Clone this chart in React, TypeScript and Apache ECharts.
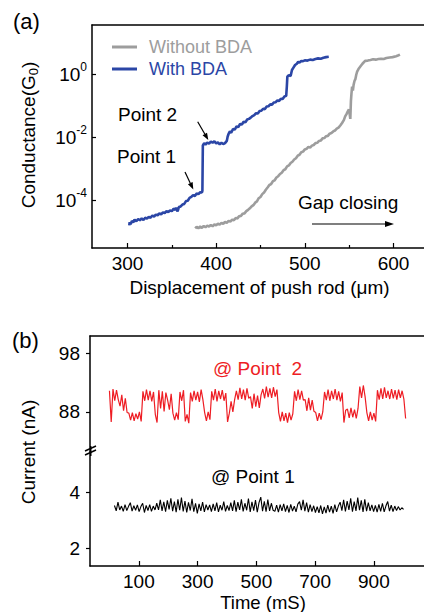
import React, { useEffect, useRef } from "react";
import * as echarts from "echarts";

const FONT = "'Liberation Sans', Arial, Helvetica, sans-serif";

// ---------- Panel (a): conductance vs displacement (log10 of G/G0) ----------
const withBdaDisplacement = [
  302, 302.5, 303.5, 305, 306.5, 308, 310, 312, 314, 316, 318, 320, 322, 324, 326, 328, 330, 332, 334, 336,
  338, 340, 342, 344, 346, 348, 350, 352, 354, 355, 356.5, 358, 360, 362, 364, 366, 368, 370, 372, 374,
  376, 378, 380, 382, 384, 384.5, 385, 386.5, 388, 390, 392, 394, 396, 398, 400, 402, 404, 406, 408, 410,
  412, 413, 414, 415.5, 417, 419, 421, 423, 425, 427, 429, 431, 433, 435, 437, 439, 441, 443, 445, 447,
  449, 451, 453, 455, 457, 459, 461, 463, 465, 467, 469, 471, 473, 475, 477, 479, 479.7, 480.3, 482, 484,
  485.5, 487, 489, 491, 492.5, 494, 496, 498, 500, 503, 506, 509, 512, 515, 518, 521, 524, 527,
];
const withBdaLogG = [
  -4.8, -4.7, -4.77, -4.66, -4.71, -4.62, -4.67, -4.6, -4.64, -4.58, -4.63, -4.56, -4.59, -4.53, -4.56, -4.49, -4.52, -4.46, -4.48, -4.42,
  -4.45, -4.39, -4.41, -4.35, -4.38, -4.33, -4.35, -4.27, -4.31, -4.24, -4.36, -4.22, -4.2, -4.14, -4.12, -4.03, -4.02, -3.93, -3.9, -3.84,
  -3.87, -3.79, -3.81, -3.75, -3.76, -3.7, -2.26, -2.19, -2.24, -2.17, -2.21, -2.14, -2.18, -2.13, -2.2, -2.17, -2.23, -2.18, -2.22, -2.19,
  -2.12, -1.98, -1.9, -1.82, -1.86, -1.74, -1.76, -1.66, -1.68, -1.58, -1.6, -1.51, -1.53, -1.44, -1.42, -1.38, -1.33, -1.3, -1.24, -1.25,
  -1.17, -1.16, -1.1, -1.11, -1.03, -1.02, -0.96, -0.97, -0.9, -0.89, -0.84, -0.85, -0.78, -0.79, -0.71, -0.69, -0.4, -0.08, -0.03, -0.06,
  0.13, 0.2, 0.29, 0.33, 0.39, 0.37, 0.42, 0.41, 0.44, 0.43, 0.46, 0.45, 0.48, 0.5, 0.49, 0.52, 0.54, 0.55,
];
const withoutBdaDisplacement = [
  376.4, 378, 380, 382, 384, 386, 388, 390, 392, 394, 396, 398, 400, 402, 404, 406, 408, 410, 412, 414,
  416, 418, 420, 422, 424, 426, 428, 430, 432, 434, 436, 438, 440, 442, 444, 446, 448, 450, 452, 454,
  456, 458, 460, 462, 464, 466, 468, 470, 472, 474, 476, 478, 480, 482, 484, 486, 488, 490, 492, 494,
  496, 498, 500, 502, 504, 506, 508, 510, 512, 514, 516, 518, 520, 522, 524, 526, 528, 530, 532, 534,
  536, 538, 540, 542, 544, 545.5, 547, 548.5, 549.7, 550.5, 551.3, 552, 552.6, 553.3, 554.2, 555, 556, 557, 558, 559,
  560.5, 562.6, 565, 568, 571, 574, 577, 580, 583, 586, 589, 592, 595.6, 599, 602.9, 605, 607.3,
];
const withoutBdaLogG = [
  -4.9, -4.85, -4.89, -4.84, -4.88, -4.82, -4.86, -4.81, -4.84, -4.79, -4.83, -4.77, -4.8, -4.75, -4.78, -4.72, -4.75, -4.69, -4.72, -4.66,
  -4.68, -4.62, -4.64, -4.57, -4.58, -4.51, -4.5, -4.43, -4.42, -4.35, -4.31, -4.26, -4.2, -4.16, -4.08, -4.04, -3.94, -3.9, -3.81, -3.76,
  -3.67, -3.6, -3.52, -3.49, -3.4, -3.37, -3.28, -3.24, -3.17, -3.13, -3.05, -3.02, -2.93, -2.9, -2.82, -2.78, -2.71, -2.67, -2.59, -2.56,
  -2.48, -2.46, -2.39, -2.37, -2.31, -2.33, -2.27, -2.25, -2.19, -2.18, -2.12, -2.11, -2.04, -2.03, -1.97, -1.96, -1.89, -1.87, -1.82, -1.79,
  -1.73, -1.7, -1.63, -1.55, -1.46, -1.34, -1.27, -1.18, -1.12, -1.25, -1.42, -0.85, -0.62, -0.4, -0.52, -0.34, -0.22, -0.16, -0.02, 0.08,
  0.16, 0.24, 0.33, 0.42, 0.43, 0.45, 0.47, 0.46, 0.48, 0.49, 0.48, 0.51, 0.53, 0.54, 0.57, 0.59, 0.62,
];
const xTicksA = [300, 400, 500, 600];
const xMinorTicksA = [350, 450, 550];
const yTicksA = [-4, -2, 0];

// ---------- Panel (b): current vs time ----------
const timeStep = 6;
const point2StartTime = 0;
const point2Current = [
  91.6, 86.3, 91.9,
  89.9, 91.7, 90.1,
  89.0, 90.9, 88.2, 90.3, 87.9,
  87.8, 86.6, 87.9, 86.5, 87.7, 86.8, 88.0, 86.4,
  91.5, 89.9, 91.8, 90.0, 91.6, 89.8, 91.4,
  87.6, 86.2,
  91.7, 88.6, 91.5, 88.1, 91.3, 90.0, 88.4, 91.1,
  87.8, 86.6, 87.9, 86.7,
  91.4, 89.9, 91.7,
  86.4, 87.6, 86.1,
  91.3, 89.8, 91.6, 90.0, 91.4, 89.7, 91.8, 90.1,
  87.9, 86.5, 88.0, 86.7,
  91.5, 90.0, 91.9, 89.8, 91.6, 90.2, 91.7, 89.9, 91.2,
  86.3, 87.8,
  89.8, 88.0, 90.1,
  91.6, 90.1, 92.1, 90.2, 91.8, 90.0, 92.0, 90.3,
  90.6, 88.6, 91.1, 88.9, 90.8, 88.7, 90.9,
  91.9, 90.3, 92.3, 90.5, 92.0, 90.4, 92.2, 90.6, 91.8,
  87.9, 86.4, 88.0, 86.5, 87.8, 86.2, 87.9, 86.6, 87.7,
  91.5, 89.9, 91.8, 90.1, 91.6, 90.0,
  90.1, 88.2, 90.4, 88.3, 90.0, 88.1,
  87.9, 86.5, 87.8, 86.7, 88.0,
  91.4, 90.0, 91.8, 89.9, 91.6, 90.2, 91.9, 90.0, 91.5, 89.8, 91.3,
  86.2, 88.3,
  88.5, 87.0, 88.7, 87.1, 88.4, 86.9, 88.6,
  92.3, 90.4, 92.5, 90.6,
  87.9, 86.5, 88.0, 86.6, 87.8, 86.4,
  91.7, 90.1, 92.0, 90.2, 92.2, 90.4,
  91.6, 90.2, 91.9, 90.3, 91.7, 90.1, 91.8, 90.4, 91.6, 90.2, 86.9,
];
const point1StartTime = 17;
const point1Current = [
  3.52, 3.33, 3.64, 3.36, 3.5, 3.31, 3.55, 3.34, 3.49, 3.62, 3.32, 3.51, 3.35, 3.54, 3.3, 3.48, 3.6, 3.27, 3.52, 3.34, 3.55, 3.31, 3.5, 3.36,
  3.6, 3.36, 3.72, 3.33, 3.65, 3.3, 3.7, 3.38, 3.78, 3.32, 3.66, 3.28, 3.74, 3.35, 3.8, 3.31, 3.68, 3.27, 3.63, 3.34, 3.76, 3.3, 3.6, 3.24, 3.58, 3.33, 3.64, 3.29, 3.55,
  3.36, 3.54, 3.3, 3.58, 3.33, 3.62, 3.29, 3.53, 3.35, 3.66, 3.31, 3.52, 3.34,
  3.62, 3.33, 3.7, 3.3, 3.64, 3.36, 3.74, 3.31, 3.6, 3.35, 3.77, 3.29, 3.65, 3.34, 3.71, 3.28, 3.62, 3.82, 3.32, 3.67, 3.3, 3.73, 3.33, 3.6, 3.35,
  3.31, 3.53, 3.28, 3.55, 3.33, 3.58, 3.3, 3.52, 3.27, 3.56, 3.32, 3.5, 3.29, 3.57,
  3.66, 3.35, 3.72, 3.32, 3.62, 3.28, 3.55, 3.3, 3.51, 3.27,
  3.48, 3.26, 3.52, 3.22, 3.47, 3.25, 3.53, 3.28, 3.5, 3.24, 3.55, 3.29, 3.5,
  3.64, 3.34, 3.72, 3.31, 3.68, 3.36, 3.78, 3.3, 3.66, 3.33, 3.8, 3.35, 3.7, 3.29, 3.74, 3.32, 3.62,
  3.33, 3.54, 3.3, 3.52, 3.28, 3.56, 3.31, 3.6, 3.29, 3.51, 3.66, 3.32, 3.53, 3.3, 3.5, 3.34, 3.48, 3.36, 3.44, 3.38,
];
const xTicksB = [100, 300, 500, 700, 900];
const yTicksBUpper = [88, 98];
const yTicksBLower = [2, 4];

const BLUE = "#2b46a6";
const GRAY = "#9d9d9d";
const RED = "#ee1d24";

function zip(xs: number[], ys: number[]) {
  return xs.map((x, i) => [x, ys[i]]);
}
function timeSeries(start: number, vals: number[]) {
  return vals.map((v, i) => [start + i * timeStep, v]);
}

function arrow(x1: number, y1: number, x2: number, y2: number, head = 7, half = 2.6, w = 1.2) {
  const dx = x2 - x1;
  const dy = y2 - y1;
  const len = Math.sqrt(dx * dx + dy * dy);
  const ux = dx / len;
  const uy = dy / len;
  const bx = x2 - ux * head;
  const by = y2 - uy * head;
  const px = -uy;
  const py = ux;
  return [
    { type: "line", shape: { x1, y1, x2: bx, y2: by }, style: { stroke: "#000", lineWidth: w } },
    {
      type: "polygon",
      shape: { points: [[x2, y2], [bx + px * half, by + py * half], [bx - px * half, by - py * half]] },
      style: { fill: "#000" },
    },
  ];
}

const txt = (text: string, x: number, y: number, extra: any = {}) => ({
  type: "text",
  x,
  y,
  style: {
    text,
    fontFamily: FONT,
    fontSize: 19,
    fill: "#000",
    align: "left",
    verticalAlign: "middle",
    ...extra,
  },
});

const axisLine = { show: true, onZero: false, lineStyle: { color: "#000", width: 1.5 } };
const tickStyle = { color: "#000", width: 1.2 };

export default function App() {
  const ref = useRef<HTMLDivElement>(null);
  useEffect(() => {
    if (!ref.current) return;
    const chart = echarts.init(ref.current, undefined, { renderer: "svg" });
    const option: any = {
      animation: false,
      textStyle: { fontFamily: FONT },
      grid: [
        { left: 92, top: 25, width: 340, height: 223 },
        { left: 90, top: 336, width: 342, height: 116 },
        { left: 90, top: 452, width: 342, height: 114 },
      ],
      xAxis: [
        {
          gridIndex: 0, type: "value", min: 260, max: 634.4, position: "bottom",
          axisLine,
          axisTick: { show: true, inside: true, length: 5, customValues: xTicksA, lineStyle: tickStyle },
          axisLabel: { show: true, customValues: xTicksA, fontSize: 19, color: "#000", margin: 6, fontFamily: FONT },
          splitLine: { show: false },
        },
        {
          gridIndex: 0, type: "value", min: 260, max: 634.4, position: "bottom",
          axisLine: { show: false, onZero: false },
          axisTick: { show: true, inside: true, length: 3, customValues: xMinorTicksA, lineStyle: tickStyle },
          axisLabel: { show: false },
          splitLine: { show: false },
        },
        {
          gridIndex: 0, type: "value", min: 260, max: 634.4, position: "top",
          axisLine, axisTick: { show: false }, axisLabel: { show: false }, splitLine: { show: false },
        },
        {
          gridIndex: 1, type: "value", min: -66.2, max: 1070.5, position: "top",
          axisLine, axisTick: { show: false }, axisLabel: { show: false }, splitLine: { show: false },
        },
        {
          gridIndex: 2, type: "value", min: -66.2, max: 1070.5, position: "bottom",
          axisLine,
          axisTick: { show: true, inside: true, length: 5, customValues: xTicksB, lineStyle: tickStyle },
          axisLabel: { show: true, customValues: xTicksB, fontSize: 19, color: "#000", margin: 6, fontFamily: FONT },
          splitLine: { show: false },
        },
      ],
      yAxis: [
        {
          gridIndex: 0, type: "value", min: -5.52, max: 1.56,
          axisLine,
          axisTick: { show: true, inside: true, length: 4, customValues: yTicksA, lineStyle: tickStyle },
          axisLabel: {
            show: true, customValues: yTicksA, fontSize: 19, color: "#000", margin: 5, fontFamily: FONT,
            lineHeight: 26,
            formatter: (v: number) => `10{sup|${v}}`,
            rich: { sup: { fontSize: 12, lineHeight: 14, verticalAlign: "top", color: "#000", fontFamily: FONT } },
          },
          splitLine: { show: false },
        },
        {
          gridIndex: 1, type: "value", min: 81.2, max: 100.9,
          axisLine,
          axisTick: { show: true, inside: false, length: 4, customValues: yTicksBUpper, lineStyle: tickStyle },
          axisLabel: { show: true, customValues: yTicksBUpper, fontSize: 19, color: "#000", margin: 10, fontFamily: FONT },
          splitLine: { show: false },
        },
        {
          gridIndex: 2, type: "value", min: 1.36, max: 5.43,
          axisLine,
          axisTick: { show: true, inside: false, length: 4, customValues: yTicksBLower, lineStyle: tickStyle },
          axisLabel: { show: true, customValues: yTicksBLower, fontSize: 19, color: "#000", margin: 10, fontFamily: FONT },
          splitLine: { show: false },
        },
      ],
      series: [
        {
          name: "Without BDA", type: "line", xAxisIndex: 0, yAxisIndex: 0, symbol: "none",
          data: zip(withoutBdaDisplacement, withoutBdaLogG),
          lineStyle: { color: GRAY, width: 2.6 }, itemStyle: { color: GRAY },
        },
        {
          name: "With BDA", type: "line", xAxisIndex: 0, yAxisIndex: 0, symbol: "none",
          data: zip(withBdaDisplacement, withBdaLogG),
          lineStyle: { color: BLUE, width: 2.6 }, itemStyle: { color: BLUE },
        },
        {
          name: "@ Point 2", type: "line", xAxisIndex: 3, yAxisIndex: 1, symbol: "none",
          data: timeSeries(point2StartTime, point2Current),
          lineStyle: { color: RED, width: 1.2 }, itemStyle: { color: RED },
        },
        {
          name: "@ Point 1", type: "line", xAxisIndex: 4, yAxisIndex: 2, symbol: "none",
          data: timeSeries(point1StartTime, point1Current),
          lineStyle: { color: "#000", width: 1.1 }, itemStyle: { color: "#000" },
        },
      ],
      graphic: {
        elements: [
          txt("(a)", 13, 21, { fontSize: 22 }),
          txt("(b)", 12, 340, { fontSize: 22 }),
          {
            type: "text", x: 28, y: 135, rotation: Math.PI / 2,
            style: {
              text: "{b|Conductance(G}{s|0}{b|)}",
              align: "center", verticalAlign: "middle", fill: "#000", fontFamily: FONT, fontSize: 19,
              rich: {
                b: { fontSize: 19, lineHeight: 24, fontFamily: FONT, fill: "#000" },
                s: { fontSize: 13, lineHeight: 14, verticalAlign: "bottom", fontFamily: FONT, fill: "#000" },
              },
            },
          },
          txt("Displacement of push rod (\u03bcm)", 259.5, 287, { align: "center" }),
          { type: "line", shape: { x1: 112, y1: 47, x2: 137, y2: 47 }, style: { stroke: GRAY, lineWidth: 3 } },
          { type: "line", shape: { x1: 112, y1: 69, x2: 137, y2: 69 }, style: { stroke: BLUE, lineWidth: 3 } },
          txt("Without BDA", 149, 47, { fontSize: 18, fill: GRAY }),
          txt("With BDA", 149, 69, { fontSize: 18, fill: BLUE }),
          txt("Point 2", 118, 114),
          txt("Point 1", 117, 156),
          ...arrow(197.7, 121.7, 208.3, 140),
          ...arrow(185, 172, 193.3, 189.5),
          txt("Gap closing", 298, 202),
          ...arrow(312, 224, 394, 224, 9, 3),
          txt("@ Point  2", 213, 368, { fill: RED }),
          txt("@ Point 1", 211, 476),
          {
            type: "text", x: 28, y: 452, rotation: Math.PI / 2,
            style: { text: "Current (nA)", align: "center", verticalAlign: "middle", fill: "#000", fontFamily: FONT, fontSize: 19 },
          },
          txt("Time (mS)", 263, 602, { align: "center", fontSize: 18.5 }),
          { type: "rect", shape: { x: 86, y: 447, width: 9, height: 6 }, style: { fill: "#fff" } },
          { type: "line", shape: { x1: 85, y1: 451, x2: 96, y2: 446 }, style: { stroke: "#000", lineWidth: 1.4 } },
          { type: "line", shape: { x1: 85, y1: 455, x2: 96, y2: 450 }, style: { stroke: "#000", lineWidth: 1.4 } },
          { type: "line", shape: { x1: 90.75, y1: 446, x2: 90.75, y2: 456 }, style: { stroke: "#000", lineWidth: 1.5 } },
        ],
      },
    };
    chart.setOption(option);
    return () => chart.dispose();
  }, []);
  return (
    <div
      ref={ref}
      style={{ position: "fixed", left: 0, top: 0, width: 424, height: 612, background: "#fff" }}
    />
  );
}
